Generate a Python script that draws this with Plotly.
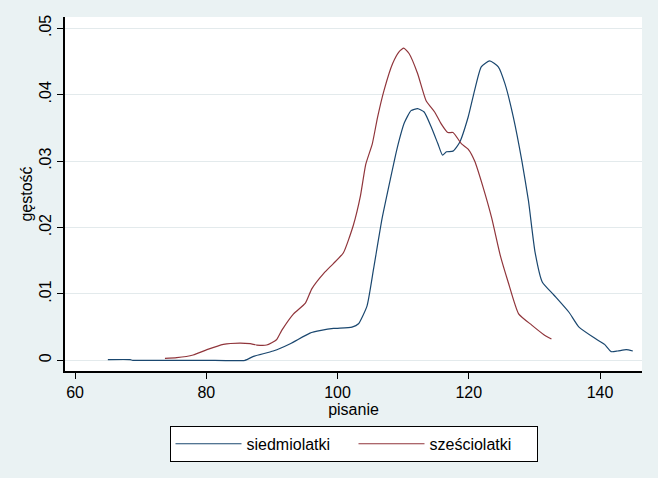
import plotly.graph_objects as go

# siedmiolatki (blue)
x7 = [65.0, 68.4, 68.8, 75.0, 80.0, 85.9, 87.2, 90.2, 92.8, 95.8, 97.5, 99.4, 102.2, 103.2,
      104.5, 105.5, 106.8, 108.1, 109.1, 110.2, 111.2, 112.2, 113.2, 114.3, 115.3, 116.0,
      116.6, 117.6, 118.6, 119.9, 120.9, 121.9, 123.2, 124.5, 125.5, 126.8, 128.1, 129.1,
      130.1, 131.2, 133.0, 135.3, 136.8, 139.4, 140.7, 141.7, 142.7, 144.0, 145.0]
y7 = [0.0001, 0.0001, 0.0, 0.0, 0.0, 0.0, 0.0006, 0.0014, 0.0025, 0.0041, 0.0045, 0.0048,
      0.0050, 0.0055, 0.0082, 0.0138, 0.0214, 0.0275, 0.0320, 0.0358, 0.0376, 0.0379,
      0.0374, 0.0351, 0.0326, 0.0309, 0.0314, 0.0315, 0.0328, 0.0366, 0.0407, 0.0442,
      0.0451, 0.0442, 0.0417, 0.0366, 0.0300, 0.0240, 0.0163, 0.0118, 0.0098, 0.0072,
      0.0050, 0.0032, 0.0024, 0.0013, 0.0014, 0.0016, 0.0014]

# sześciolatki (red)
x6 = [73.7, 75.5, 78.0, 80.1, 82.6, 85.1, 86.7, 87.7, 89.2, 90.7, 91.5, 93.3, 95.1, 96.1,
      97.9, 99.4, 100.9, 102.4, 103.5, 104.3, 105.3, 106.1, 107.1, 108.4, 109.4, 110.1,
      110.9, 112.2, 113.5, 114.8, 115.8, 116.8, 117.6, 118.9, 119.9, 120.9, 122.2, 123.5,
      124.8, 126.0, 127.6, 129.6, 131.4, 132.6]
y6 = [0.0003, 0.0004, 0.0008, 0.0016, 0.0024, 0.0026, 0.0025, 0.0023, 0.0023, 0.0031,
      0.0045, 0.0070, 0.0086, 0.0108, 0.0131, 0.0146, 0.0162, 0.0203, 0.0248, 0.0295,
      0.0326, 0.0366, 0.0407, 0.0447, 0.0465, 0.0470, 0.0462, 0.0432, 0.0391, 0.0374,
      0.0356, 0.0343, 0.0343, 0.0326, 0.0318, 0.0300, 0.0260, 0.0214, 0.0158, 0.0118,
      0.0070, 0.0053, 0.0039, 0.0032]

xticks = [60, 80, 100, 120, 140]
yticks = [0, 0.01, 0.02, 0.03, 0.04, 0.05]
yticktext = ["0", ".01", ".02", ".03", ".04", ".05"]

BG = "#eaf2f3"
GRID = "#e3eaec"
FONT = "Liberation Sans, Arial, sans-serif"

fig = go.Figure()
fig.add_trace(go.Scatter(x=x7, y=y7, mode="lines", name="siedmiolatki",
                         line=dict(color="#1a476f", width=1.2, shape="spline", smoothing=0.5)))
fig.add_trace(go.Scatter(x=x6, y=y6, mode="lines", name="sześciolatki",
                         line=dict(color="#90353b", width=1.2, shape="spline", smoothing=0.5)))

fig.update_layout(
    width=658, height=478,
    margin=dict(l=65, r=16, t=17, b=107),
    paper_bgcolor=BG, plot_bgcolor="white",
    font=dict(family=FONT, size=16, color="black"),
    showlegend=True,
    legend=dict(orientation="h", x=0.5, xanchor="center", y=-0.155, yanchor="top",
                bgcolor="white", bordercolor="black", borderwidth=1,
                font=dict(size=16), itemwidth=66, entrywidth=102, traceorder="normal"),
    xaxis=dict(range=[58.47, 146.4], tickvals=xticks, showgrid=False, zeroline=False,
               showline=True, linecolor="black", linewidth=1.5, ticks="outside",
               ticklen=6, tickcolor="black",
               title=dict(text="pisanie", standoff=0, font=dict(size=16))),
    yaxis=dict(range=[-0.00161, 0.0517], tickvals=yticks, ticktext=yticktext,
               tickangle=-90, showgrid=True, gridcolor=GRID, gridwidth=1, zeroline=False,
               showline=True, linecolor="black", linewidth=1.5, ticks="outside",
               ticklen=6, tickcolor="black",
               title=dict(text="gęstość", standoff=0, font=dict(size=16))),
)

fig.write_html("out.html")
